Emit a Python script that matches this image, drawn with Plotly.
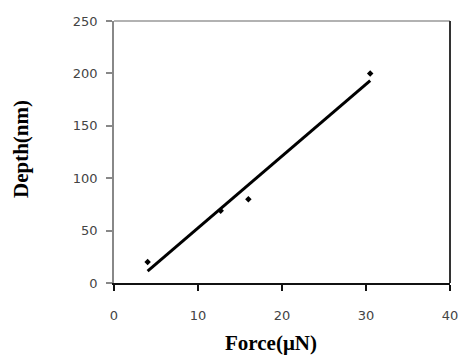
import numpy as np
import plotly.graph_objects as go

force = [4.0, 12.7, 16.0, 30.5]
depth = [20, 69, 80, 200]
x_ticks = [0, 10, 20, 30, 40]
y_ticks = [0, 50, 100, 150, 200, 250]

slope, intercept = np.polyfit(force, depth, 1)
fit_x = [min(force), max(force)]
fit_y = [slope * v + intercept for v in fit_x]

fig = go.Figure()
fig.add_trace(go.Scatter(x=fit_x, y=fit_y, mode="lines",
                         line=dict(color="black", width=3), showlegend=False))
fig.add_trace(go.Scatter(x=force, y=depth, mode="markers",
                         marker=dict(symbol="diamond", size=5, color="black"),
                         showlegend=False))

tickfont = dict(family="DejaVu Sans", size=13, color="#444")
fig.update_layout(
    width=459, height=356,
    margin=dict(l=114, r=9, t=21, b=73),
    paper_bgcolor="white", plot_bgcolor="white",
    xaxis=dict(range=[0, 40], tickvals=x_ticks, showgrid=False, zeroline=False,
               showline=True, linecolor="#111", linewidth=1.5,
               ticks="outside", ticklen=6, tickcolor="#111", tickwidth=1.5,
               tickfont=tickfont, ticklabelstandoff=14, automargin=False),
    yaxis=dict(range=[0, 250], tickvals=y_ticks, showgrid=False, zeroline=False,
               showline=True, linecolor="#888", linewidth=1.5,
               ticks="outside", ticklen=6, tickcolor="#888", tickwidth=1.5,
               tickfont=tickfont, ticklabelstandoff=6, automargin=False),
    shapes=[
        dict(type="line", xref="paper", yref="paper", x0=0, x1=1, y0=1, y1=1,
             line=dict(color="#999", width=1.5)),
        dict(type="line", xref="paper", yref="paper", x0=1, x1=1, y0=0, y1=1,
             line=dict(color="#333", width=2)),
    ],
    annotations=[
        dict(text="<b>Force(μN)</b>", xref="paper", yref="paper",
             x=(271 - 114) / 336, y=-(343 - 283) / 262, showarrow=False,
             xanchor="center", yanchor="middle",
             font=dict(family="Liberation Serif", size=21, color="black")),
        dict(text="<b>Depth(nm)</b>", xref="paper", yref="paper",
             x=-(114 - 21) / 336, y=(283 - 149) / 262, showarrow=False,
             textangle=-90, xanchor="center", yanchor="middle",
             font=dict(family="Liberation Serif", size=21, color="black")),
    ],
)

fig.write_html("out.html")
